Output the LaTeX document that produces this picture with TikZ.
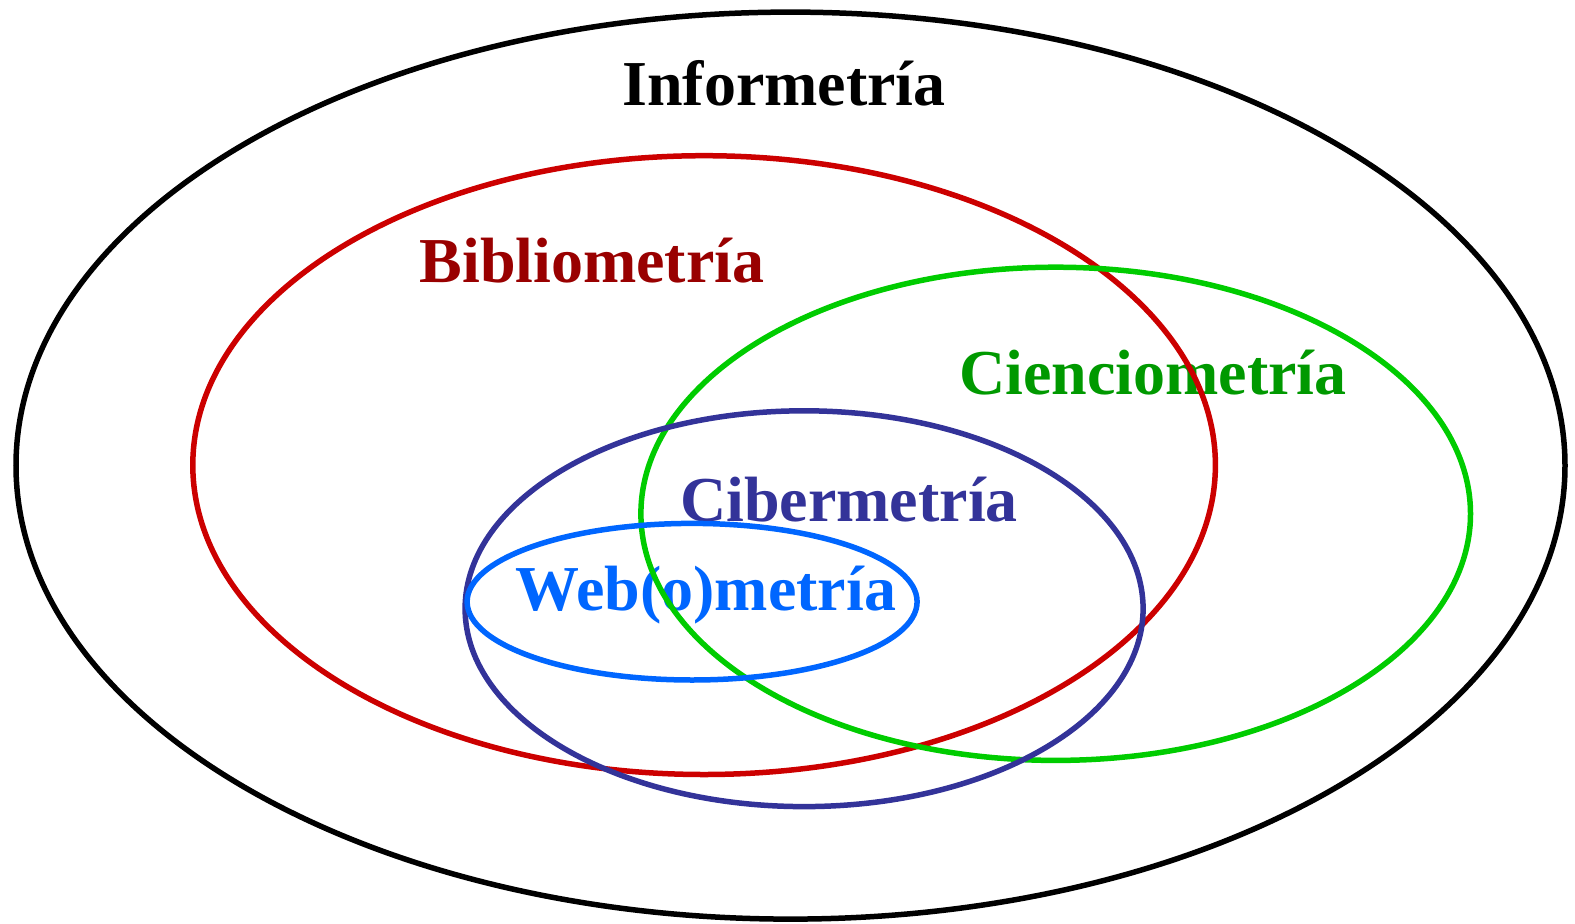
\documentclass[tikz,border=0pt]{standalone}
\usepackage{fontspec}
\setmainfont{Liberation Serif}
\usetikzlibrary{shapes.geometric}
\definecolor{cRed}{HTML}{CC0000}
\definecolor{cRedT}{HTML}{990000}
\definecolor{cGreen}{HTML}{00CC00}
\definecolor{cGreenT}{HTML}{009900}
\definecolor{cNavy}{HTML}{333399}
\definecolor{cBlue}{HTML}{0066FF}
\tikzset{
  set/.style={draw, ellipse, inner sep=0pt, line width=5.5pt},
  lab/.style={anchor=base, inner sep=0pt, font=\fontsize{64}{70}\selectfont\bfseries},
}
\begin{document}
\begin{tikzpicture}[x=1pt,y=-1pt]
\useasboundingbox (0,0) rectangle (1575,924);
\node[lab] (tinfo) at (784,105.5) {Informetría};
\node[lab, text=cRedT] (tbib) at (592,282) {Bibliometría};
\node[lab, text=cGreenT] (tcien) at (1153,394) {Cienciometría};
\node[lab, text=cNavy] (tciber) at (849,521) {Cibermetría};
\node[lab, text=cBlue] (tweb) at (706,610) {Web(o)metría};
\node[set, minimum width=1549pt, minimum height=907pt] (info) at (790.5,465.6) {};
\node[set, cRed, minimum width=1022.6pt, minimum height=618.8pt] (bib) at (704.1,465.1) {};
\node[set, cGreen, minimum width=829.6pt, minimum height=493.2pt] (cien) at (1055.7,513.8) {};
\node[set, cNavy, minimum width=678pt, minimum height=395.8pt] (ciber) at (804.1,608.7) {};
\node[set, cBlue, minimum width=450pt, minimum height=156.6pt] (web) at (692.1,601.7) {};
\end{tikzpicture}
\end{document}
